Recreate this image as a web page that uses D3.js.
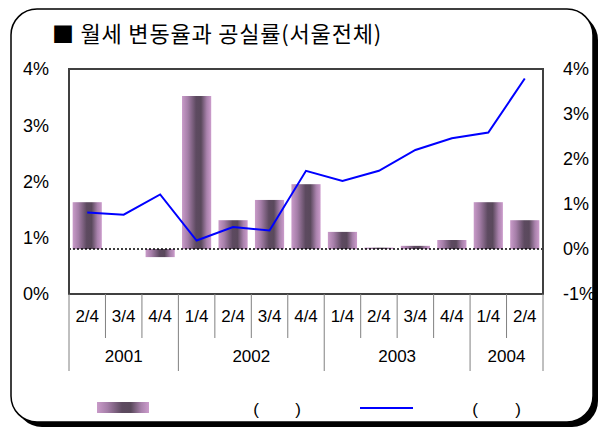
<!DOCTYPE html>
<html>
<head>
<meta charset="utf-8">
<script src="https://cdn.jsdelivr.net/npm/d3@7"></script>
<style>
  body { margin: 0; background: #fff; }
  text { font-family: "Liberation Sans", Arial, sans-serif; fill: #000; }
</style>
</head>
<body>
<div id="chart"></div>
<script>
// quarters on the x axis, grouped by year
let quarters = ["2/4", "3/4", "4/4", "1/4", "2/4", "3/4", "4/4", "1/4", "2/4", "3/4", "4/4", "1/4", "2/4"];
let years = ["2001", "2002", "2003", "2004"];
let yearSpans = [3, 4, 4, 2];
// 월세 변동율 (bars, right axis) and 공실률 (line, left axis), in %
let rentChange = [1.04, 0, -0.18, 3.4, 0.64, 1.09, 1.44, 0.38, 0.03, 0.07, 0.2, 1.04, 0.64];
let vacancy = [1.45, 1.41, 1.77, 0.95, 1.19, 1.13, 2.19, 2.01, 2.19, 2.56, 2.77, 2.87, 3.83];
let leftTicks = [0, 1, 2, 3, 4];
let rightTicks = [-1, 0, 1, 2, 3, 4];

let W = 603, H = 430;
let plot = {left: 69, right: 543, top: 69, bottom: 294};

let svg = d3.select("#chart").append("svg")
    .attr("width", W)
    .attr("height", H);

let defs = svg.append("defs");
let grad = defs.append("linearGradient")
    .attr("id", "barGrad")
    .attr("x1", "0%").attr("x2", "100%")
    .attr("y1", "0%").attr("y2", "0%");
[["0%", "#c99bc9"], ["20%", "#a57ea8"], ["48%", "#5d4a60"], ["65%", "#5a495c"], ["85%", "#a982ac"], ["100%", "#cc9ccc"]]
    .forEach(s => grad.append("stop").attr("offset", s[0]).attr("stop-color", s[1]));

// frame with shadow
svg.append("rect")
    .attr("x", 16).attr("y", 14)
    .attr("width", 582).attr("height", 413)
    .attr("rx", 26).attr("ry", 26)
    .style("fill", "#000");
svg.append("rect")
    .attr("x", 11).attr("y", 9)
    .attr("width", 582).attr("height", 413)
    .attr("rx", 26).attr("ry", 26)
    .style("fill", "#fff")
    .style("stroke", "#000")
    .style("stroke-width", 1.5);

svg.append("text")
    .attr("x", 52).attr("y", 42)
    .style("font-family", "'Noto Sans CJK KR', sans-serif")
    .style("font-size", "22px")
    .style("letter-spacing", "0.8px")
    .text("■ 월세 변동율과 공실률(서울전체)");

let x = d3.scaleBand()
    .domain(d3.range(quarters.length))
    .range([plot.left, plot.right])
    .paddingInner(0.2)
    .paddingOuter(0.1);

let yLeft = d3.scaleLinear().domain([0, 4]).range([plot.bottom, plot.top]);
let yRight = d3.scaleLinear().domain([-1, 4]).range([plot.bottom, plot.top]);

// bars
svg.selectAll(".bar")
    .data(rentChange.map((v, i) => ({i: i, v: v})).filter(d => d.v !== 0))
    .enter().append("rect")
    .attr("class", "bar")
    .attr("x", d => x(d.i))
    .attr("width", x.bandwidth())
    .attr("y", d => yRight(Math.max(0, d.v)))
    .attr("height", d => Math.abs(yRight(d.v) - yRight(0)))
    .style("fill", "url(#barGrad)");

// zero line of the right axis
svg.append("line")
    .attr("x1", plot.left).attr("x2", plot.right)
    .attr("y1", yRight(0)).attr("y2", yRight(0))
    .style("stroke", "#000")
    .style("stroke-width", 1.5)
    .style("stroke-dasharray", "2,2");

// line
let line = d3.line()
    .x((d, i) => x(i) + x.bandwidth() / 2)
    .y(d => yLeft(d));
svg.append("path")
    .datum(vacancy)
    .attr("d", line)
    .style("fill", "none")
    .style("stroke", "#0000ff")
    .style("stroke-width", 2);

// plot border
svg.append("rect")
    .attr("x", plot.left).attr("y", plot.top)
    .attr("width", plot.right - plot.left)
    .attr("height", plot.bottom - plot.top)
    .style("fill", "none")
    .style("stroke", "#404040")
    .style("stroke-width", 2);

// left axis labels
svg.selectAll(".lt")
    .data(leftTicks)
    .enter().append("text")
    .attr("x", 49)
    .attr("y", d => yLeft(d))
    .attr("dy", "0.35em")
    .style("text-anchor", "end")
    .style("font-size", "18px")
    .text(d => d + "%");

// right axis labels
svg.selectAll(".rt")
    .data(rightTicks)
    .enter().append("text")
    .attr("x", 563)
    .attr("y", d => yRight(d))
    .attr("dy", "0.35em")
    .style("text-anchor", "start")
    .style("font-size", "18px")
    .text(d => d + "%");

// category axis: quarter dividers and labels
let step = x.step();
let edges = d3.range(quarters.length + 1).map(i => plot.left + i * step);
let yearEdges = [0];
yearSpans.forEach((n, i) => yearEdges.push(yearEdges[i] + n));

svg.selectAll(".qline")
    .data(edges)
    .enter().append("line")
    .attr("x1", d => d).attr("x2", d => d)
    .attr("y1", plot.bottom)
    .attr("y2", (d, i) => yearEdges.indexOf(i) >= 0 ? 371 : 338)
    .style("stroke", "#808080")
    .style("stroke-width", 1);

svg.selectAll(".ql")
    .data(quarters)
    .enter().append("text")
    .attr("x", (d, i) => x(i) + x.bandwidth() / 2)
    .attr("y", 316)
    .attr("dy", "0.35em")
    .style("text-anchor", "middle")
    .style("font-size", "17px")
    .text(d => d);

svg.selectAll(".yl")
    .data(years)
    .enter().append("text")
    .attr("x", (d, i) => plot.left + (yearEdges[i] + yearSpans[i] / 2) * step)
    .attr("y", 356)
    .attr("dy", "0.35em")
    .style("text-anchor", "middle")
    .style("font-size", "17px")
    .text(d => d);

// legend
svg.append("rect")
    .attr("x", 97).attr("y", 402)
    .attr("width", 52).attr("height", 11)
    .style("fill", "url(#barGrad)");
svg.append("line")
    .attr("x1", 360).attr("x2", 413)
    .attr("y1", 408).attr("y2", 408)
    .style("stroke", "#0000ff")
    .style("stroke-width", 2);
[256, 298, 475, 518].forEach((px, i) => {
    svg.append("text")
        .attr("x", px).attr("y", 409)
        .attr("dy", "0.35em")
        .style("text-anchor", "middle")
        .style("font-size", "17px")
        .text(i % 2 === 0 ? "(" : ")");
});
</script>
</body>
</html>
